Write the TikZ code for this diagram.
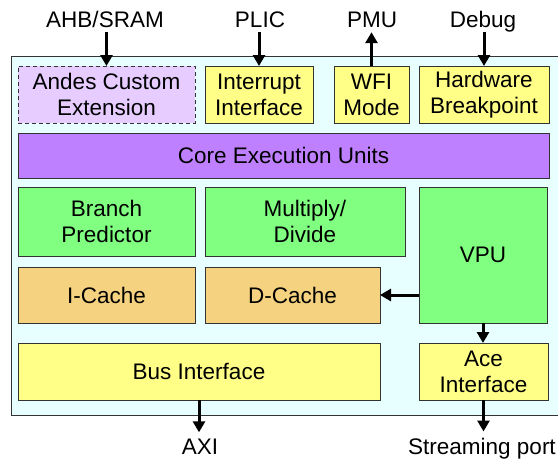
\documentclass[tikz,border=0pt]{standalone}
\usepackage{fontspec}
\setmainfont{Liberation Sans}
\usetikzlibrary{arrows.meta,positioning,calc}
\definecolor{socbg}{HTML}{E8FFFF}
\definecolor{cyellow}{HTML}{FFFF88}
\definecolor{clav}{HTML}{E6CCFF}
\definecolor{cpurple}{HTML}{BF80FF}
\definecolor{cgreen}{HTML}{80FF80}
\definecolor{corange}{HTML}{F5D280}
\definecolor{cline}{HTML}{333333}
\tikzset{
  blk style/.style={rectangle, draw=cline, line width=0.9pt, inner sep=0pt, outer sep=0pt,
    align=center, font=\fontsize{22.5}{26}\selectfont},
  lab style/.style={inner sep=0pt, text depth=0pt, anchor=base, font=\fontsize{22.5}{26}\selectfont},
  arr style/.style={-{Triangle[length=11pt,width=12pt]}, line width=3pt}
}
\begin{document}
\begin{tikzpicture}[x=1pt,y=-1pt]
\useasboundingbox (0,0) rectangle (558,461);
\node[blk style, fill=socbg, minimum width=552pt, minimum height=359pt] (soc) at (287,235.5) {};
\node[blk style, fill=clav, dash pattern=on 4pt off 3pt, minimum width=177pt, minimum height=57pt] (c1) at (106.5,94.5) {Andes Custom\\Extension};
\node[blk style, fill=cyellow, minimum width=108pt, minimum height=57pt] (c2) at (259,94.5) {Interrupt\\Interface};
\node[blk style, fill=cyellow, minimum width=75pt, minimum height=57pt] (c3) at (371.5,94.5) {WFI\\Mode};
\node[blk style, fill=cyellow, minimum width=130pt, minimum height=57pt] (c4) at (484,94.5) {Hardware\\Breakpoint};
\node[blk style, fill=cpurple, minimum width=531pt, minimum height=45pt] (c5) at (283.5,155.5) {Core Execution Units};
\node[blk style, fill=cgreen, minimum width=177pt, minimum height=69pt] (c6) at (106.5,221.5) {Branch\\Predictor};
\node[blk style, fill=cgreen, minimum width=200pt, minimum height=69pt] (c7) at (305,221.5) {Multiply/\\Divide};
\node[blk style, fill=cgreen, minimum width=128pt, minimum height=136pt] (c8) at (483,255) {VPU};
\node[blk style, fill=corange, minimum width=177pt, minimum height=56pt] (c9) at (106.5,295) {I-Cache};
\node[blk style, fill=corange, minimum width=175pt, minimum height=56pt] (c10) at (292.5,295) {D-Cache};
\node[blk style, fill=cyellow, minimum width=362pt, minimum height=57pt] (c11) at (199,371.5) {Bus Interface};
\node[blk style, fill=cyellow, minimum width=129pt, minimum height=57pt] (c12) at (483.5,371.5) {Ace\\Interface};
\node[lab style] (l1) at (105,27) {AHB/SRAM};
\node[lab style] (l2) at (260,27) {PLIC};
\node[lab style] (l3) at (372,27) {PMU};
\node[lab style] (l4) at (483,27) {Debug};
\node[lab style] (l5) at (200,454) {AXI};
\node[lab style] (l6) at (482,454) {Streaming port};
\draw[arr style, shorten <=5pt] (c1.north |- l1.south) -- (c1.north);
\draw[arr style, shorten <=5pt] (c2.north |- l2.south) -- (c2.north);
\draw[arr style, shorten >=5pt] (c3.north) -- (c3.north |- l3.south);
\draw[arr style, shorten <=5pt] (c4.north |- l4.south) -- (c4.north);
\draw[arr style] (c8.west |- c10) -- (c10.east);
\draw[arr style] (c8.south) -- (c8.south |- c12.north);
\draw[arr style, shorten >=6pt] (c11.south) -- (c11.south |- l5.north);
\draw[arr style, shorten >=6pt] (c12.south) -- (c12.south |- l6.north);
\end{tikzpicture}
\end{document}
